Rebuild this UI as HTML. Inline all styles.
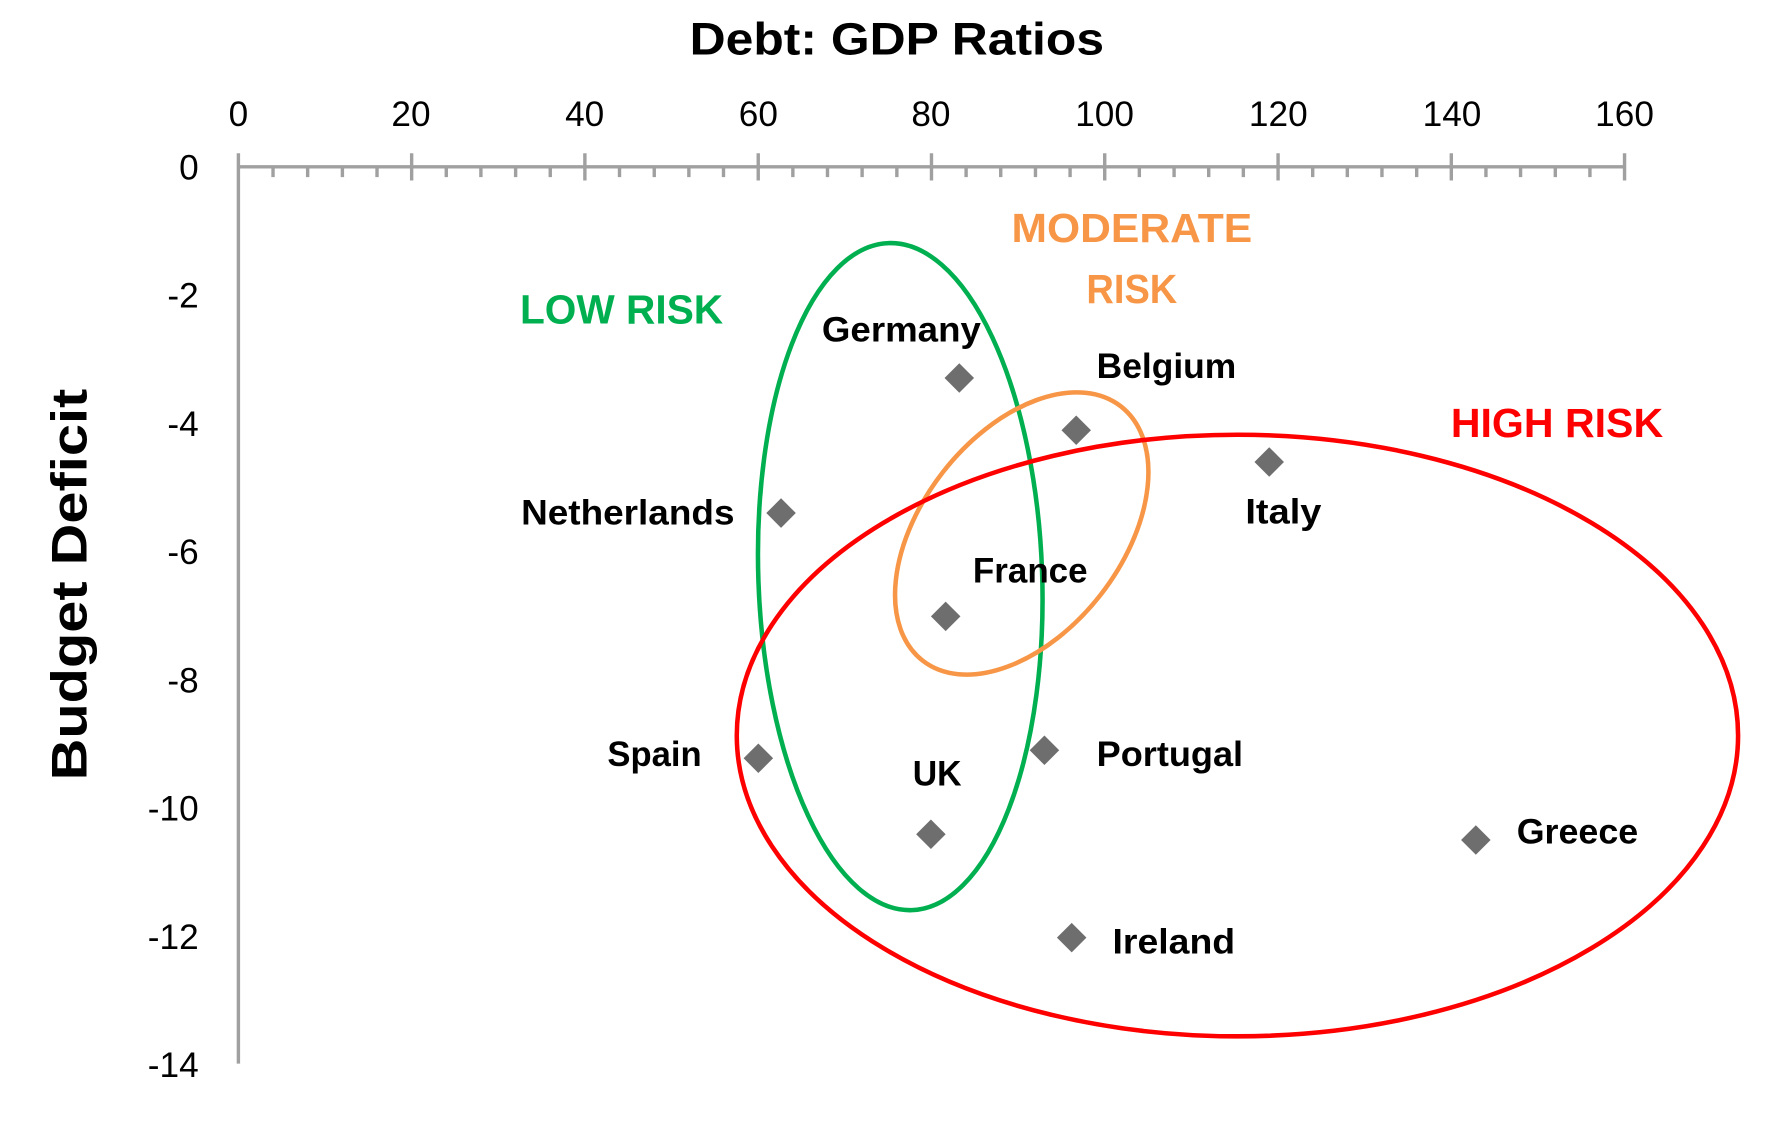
<!DOCTYPE html>
<html><head><meta charset="utf-8"><style>
html,body{margin:0;padding:0;background:#fff;}
svg{display:block;}
text{font-family:"Liberation Sans",sans-serif;}
</style></head><body>
<svg width="1771" height="1126" viewBox="0 0 1560 992" preserveAspectRatio="none" xmlns="http://www.w3.org/2000/svg">
<text x="790" y="48" font-size="40" font-weight="bold" text-anchor="middle" textLength="365" lengthAdjust="spacingAndGlyphs">Debt: GDP Ratios</text>
<text transform="translate(76,515) rotate(-90)" font-size="44" font-weight="bold" text-anchor="middle" textLength="345" lengthAdjust="spacingAndGlyphs">Budget Deficit</text>
<g font-size="31" text-anchor="middle" fill="#000">
<text x="210" y="111">0</text><text x="362" y="111">20</text><text x="515" y="111">40</text><text x="668" y="111">60</text><text x="820" y="111">80</text><text x="973" y="111">100</text><text x="1126" y="111">120</text><text x="1279" y="111">140</text><text x="1431" y="111">160</text>
</g>
<g font-size="31" text-anchor="end" fill="#000">
<text x="175" y="158">0</text><text x="175" y="271">-2</text><text x="175" y="384">-4</text><text x="175" y="497">-6</text><text x="175" y="610">-8</text><text x="175" y="723">-10</text><text x="175" y="836">-12</text><text x="175" y="949">-14</text>
</g>
<g stroke="#a0a0a0" stroke-width="3" fill="none">
<line x1="210" y1="147" x2="1431" y2="147"/>
<line x1="210" y1="135" x2="210" y2="937"/>
<path d="M362.6 135V159M515.2 135V159M667.9 135V159M820.5 135V159M973.1 135V159M1125.8 135V159M1278.4 135V159M1431 135V159
M240.5 147v9M271 147v9M301.6 147v9M332.1 147v9
M393.1 147v9M423.6 147v9M454.2 147v9M484.7 147v9
M545.7 147v9M576.3 147v9M606.8 147v9M637.3 147v9
M698.4 147v9M728.9 147v9M759.4 147v9M790 147v9
M851 147v9M881.5 147v9M912.1 147v9M942.6 147v9
M1003.6 147v9M1034.2 147v9M1064.7 147v9M1095.2 147v9
M1156.3 147v9M1186.8 147v9M1217.3 147v9M1247.9 147v9
M1308.9 147v9M1339.4 147v9M1370 147v9M1400.5 147v9"/>
</g>
<g fill="#6e6e6e">
<path d="M845 320l13 13-13 13-13-13z"/>
<path d="M948 366l13 13-13 13-13-13z"/>
<path d="M1118 394l13 13-13 13-13-13z"/>
<path d="M688 439l13 13-13 13-13-13z"/>
<path d="M833 530l13 13-13 13-13-13z"/>
<path d="M668 655l13 13-13 13-13-13z"/>
<path d="M920 648l13 13-13 13-13-13z"/>
<path d="M820 722l13 13-13 13-13-13z"/>
<path d="M1300 727l13 13-13 13-13-13z"/>
<path d="M944 813l13 13-13 13-13-13z"/>
</g>
<g fill="none" stroke-width="4">
<ellipse cx="793" cy="508" rx="125" ry="294" transform="rotate(-2 793 508)" stroke="#00b050"/>
<ellipse cx="900" cy="470" rx="142" ry="88" transform="rotate(-52 900 470)" stroke="#f79646"/>
<ellipse cx="1090" cy="648" rx="441" ry="265" stroke="#ff0000"/>
</g>
<g font-size="31" font-weight="bold" fill="#000">
<text x="724" y="301" textLength="140" lengthAdjust="spacingAndGlyphs">Germany</text>
<text x="966" y="333" textLength="123" lengthAdjust="spacingAndGlyphs">Belgium</text>
<text x="1097" y="461" textLength="67" lengthAdjust="spacingAndGlyphs">Italy</text>
<text x="459" y="462" textLength="188" lengthAdjust="spacingAndGlyphs">Netherlands</text>
<text x="857" y="513" textLength="101" lengthAdjust="spacingAndGlyphs">France</text>
<text x="535" y="675" textLength="83" lengthAdjust="spacingAndGlyphs">Spain</text>
<text x="966" y="675" textLength="129" lengthAdjust="spacingAndGlyphs">Portugal</text>
<text x="804" y="692" textLength="43" lengthAdjust="spacingAndGlyphs">UK</text>
<text x="1336" y="743" textLength="107" lengthAdjust="spacingAndGlyphs">Greece</text>
<text x="980" y="840" textLength="108" lengthAdjust="spacingAndGlyphs">Ireland</text>
</g>
<g font-size="36" font-weight="bold">
<text x="458" y="285" fill="#00b050" textLength="179" lengthAdjust="spacingAndGlyphs">LOW RISK</text>
<text x="997" y="213" fill="#f79646" text-anchor="middle" textLength="212" lengthAdjust="spacingAndGlyphs">MODERATE</text>
<text x="997" y="267" fill="#f79646" text-anchor="middle" textLength="80" lengthAdjust="spacingAndGlyphs">RISK</text>
<text x="1278" y="385" fill="#ff0000" textLength="187" lengthAdjust="spacingAndGlyphs">HIGH RISK</text>
</g>
</svg>
</body></html>
